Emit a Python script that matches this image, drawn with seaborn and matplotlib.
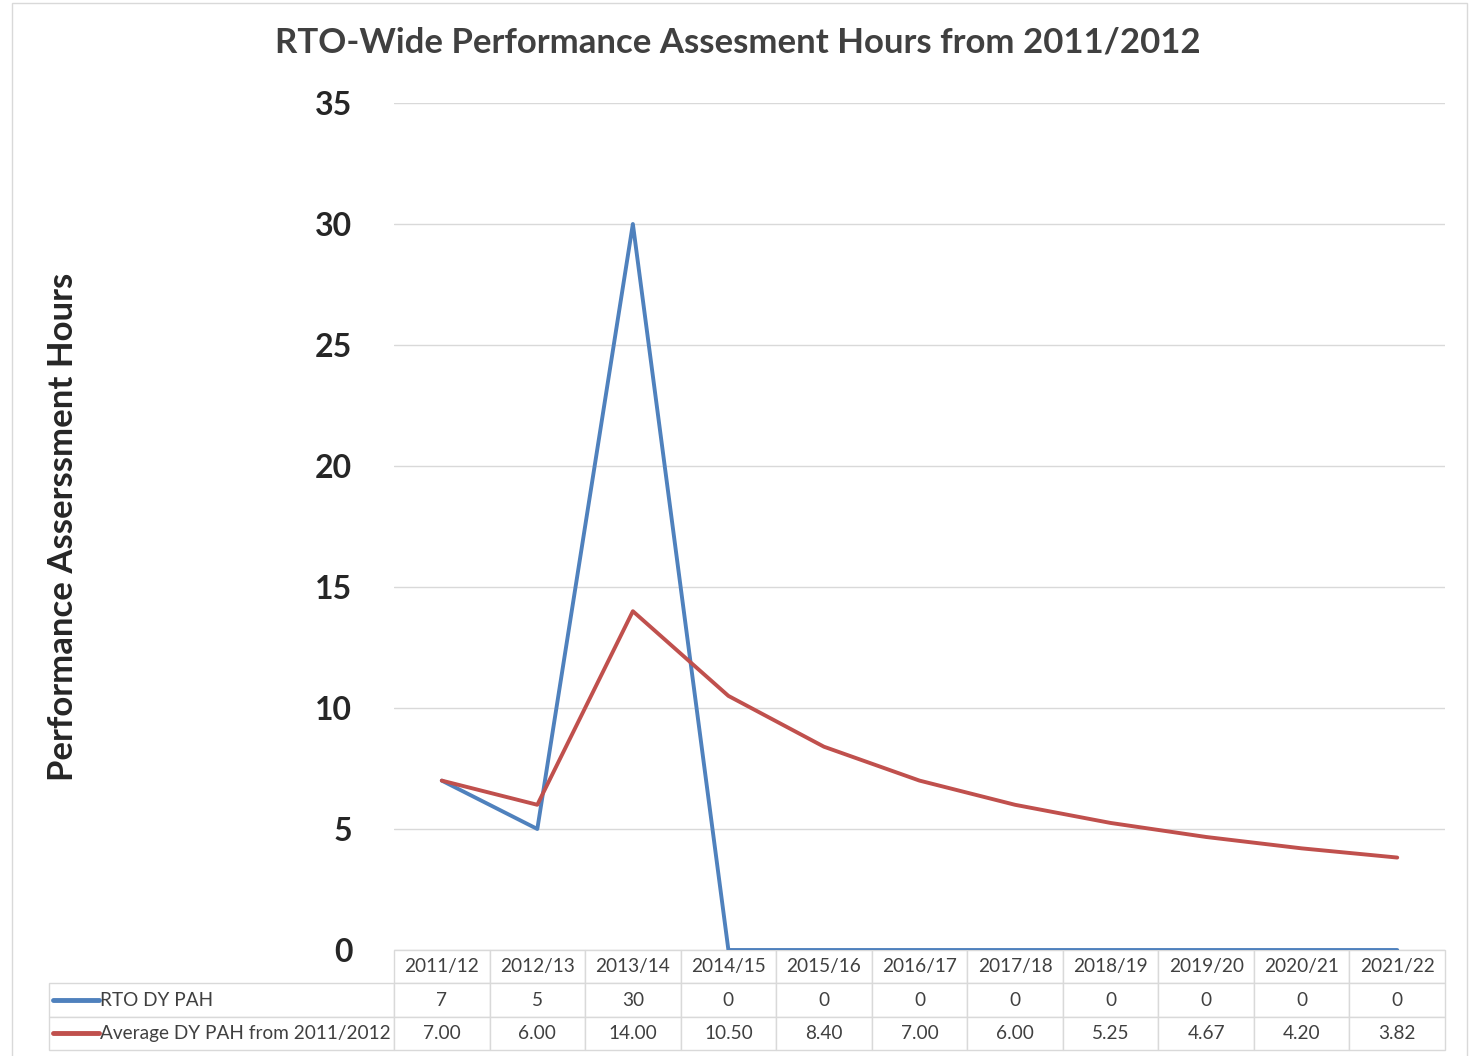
import matplotlib
matplotlib.use('Agg')
import matplotlib.pyplot as plt
import seaborn as sns
from matplotlib.patches import Rectangle
from matplotlib.lines import Line2D

years = ['2011/12', '2012/13', '2013/14', '2014/15', '2015/16', '2016/17',
         '2017/18', '2018/19', '2019/20', '2020/21', '2021/22']
rto_pah = [7, 5, 30, 0, 0, 0, 0, 0, 0, 0, 0]
avg_pah = [7.00, 6.00, 14.00, 10.50, 8.40, 7.00, 6.00, 5.25, 4.67, 4.20, 3.82]
series_names = ['RTO DY PAH', 'Average DY PAH from 2011/2012']
colors = ['#4f81bd', '#c0504d']

sns.set_style('white')
plt.rcParams['font.family'] = ['Lato', 'DejaVu Sans']

fig = plt.figure(figsize=(14.76, 10.56), dpi=100)
ax = fig.add_axes([394 / 1476, 1 - 950 / 1056, (1445 - 394) / 1476, (950 - 103) / 1056])

pos = list(range(len(years)))
sns.lineplot(x=pos, y=rto_pah, color=colors[0], linewidth=2.8, ax=ax)
sns.lineplot(x=pos, y=avg_pah, color=colors[1], linewidth=2.8, ax=ax)

ax.set_xlim(-0.5, len(years) - 0.5)
ax.set_ylim(0, 35)
ax.set_yticks(range(0, 36, 5))
ax.set_xticks([])
ax.grid(axis='y', color='#d9d9d9', linewidth=1)
ax.set_axisbelow(True)
for s in ax.spines.values():
    s.set_visible(False)
ax.tick_params(axis='y', length=0, pad=30, labelsize=23, colors='#262626')
for lbl in ax.get_yticklabels():
    lbl.set_fontweight('bold')

ax.set_ylabel('Performance Asserssment Hours', fontsize=25, fontweight='bold',
              color='#262626', labelpad=0)
ax.yaxis.set_label_coords((63 - 394) / 1051, 0.5)
ax.yaxis.label.set_va('center')

fig.suptitle('RTO-Wide Performance Assesment Hours from 2011/2012', x=0.5,
             y=1 - 43 / 1056, va='center', fontsize=25, fontweight='bold',
             color='#404040')

# data table below the plot
cell_text = [[''] + years,
             [series_names[0]] + [str(v) for v in rto_pah],
             [series_names[1]] + ['%.2f' % v for v in avg_pah]]
total_w = 1445 - 49
col_w = [345 / total_w] + [(1051 / 11) / total_w] * len(years)
tbl = ax.table(cellText=cell_text, colWidths=col_w, cellLoc='center',
               bbox=[(49 - 394) / 1051, -(1050 - 950) / 847, total_w / 1051, 100 / 847])
tbl.auto_set_font_size(False)
for (r, c), cell in tbl.get_celld().items():
    cell.set_edgecolor('#d9d9d9')
    cell.set_linewidth(1)
    cell.get_text().set_fontsize(13.7)
    cell.get_text().set_color('#404040')
    if r == 0 and c == 0:
        cell.visible_edges = ''
    if c == 0 and r > 0:
        cell.get_text().set_ha('left')
        cell.PAD = 51 / 345

# legend keys in the table
for i, row_y in enumerate([1000, 1033]):
    fig.add_artist(Line2D([53 / 1476, 99 / 1476], [1 - row_y / 1056] * 2,
                          color=colors[i], linewidth=3.5, solid_capstyle='round'))

fig.add_artist(Rectangle((12 / 1476, -0.01), 1455 / 1476, 1 - 3 / 1056 + 0.01,
                         fill=False, edgecolor='#d9d9d9', linewidth=1,
                         transform=fig.transFigure))

fig.savefig('out.png', dpi=100)
